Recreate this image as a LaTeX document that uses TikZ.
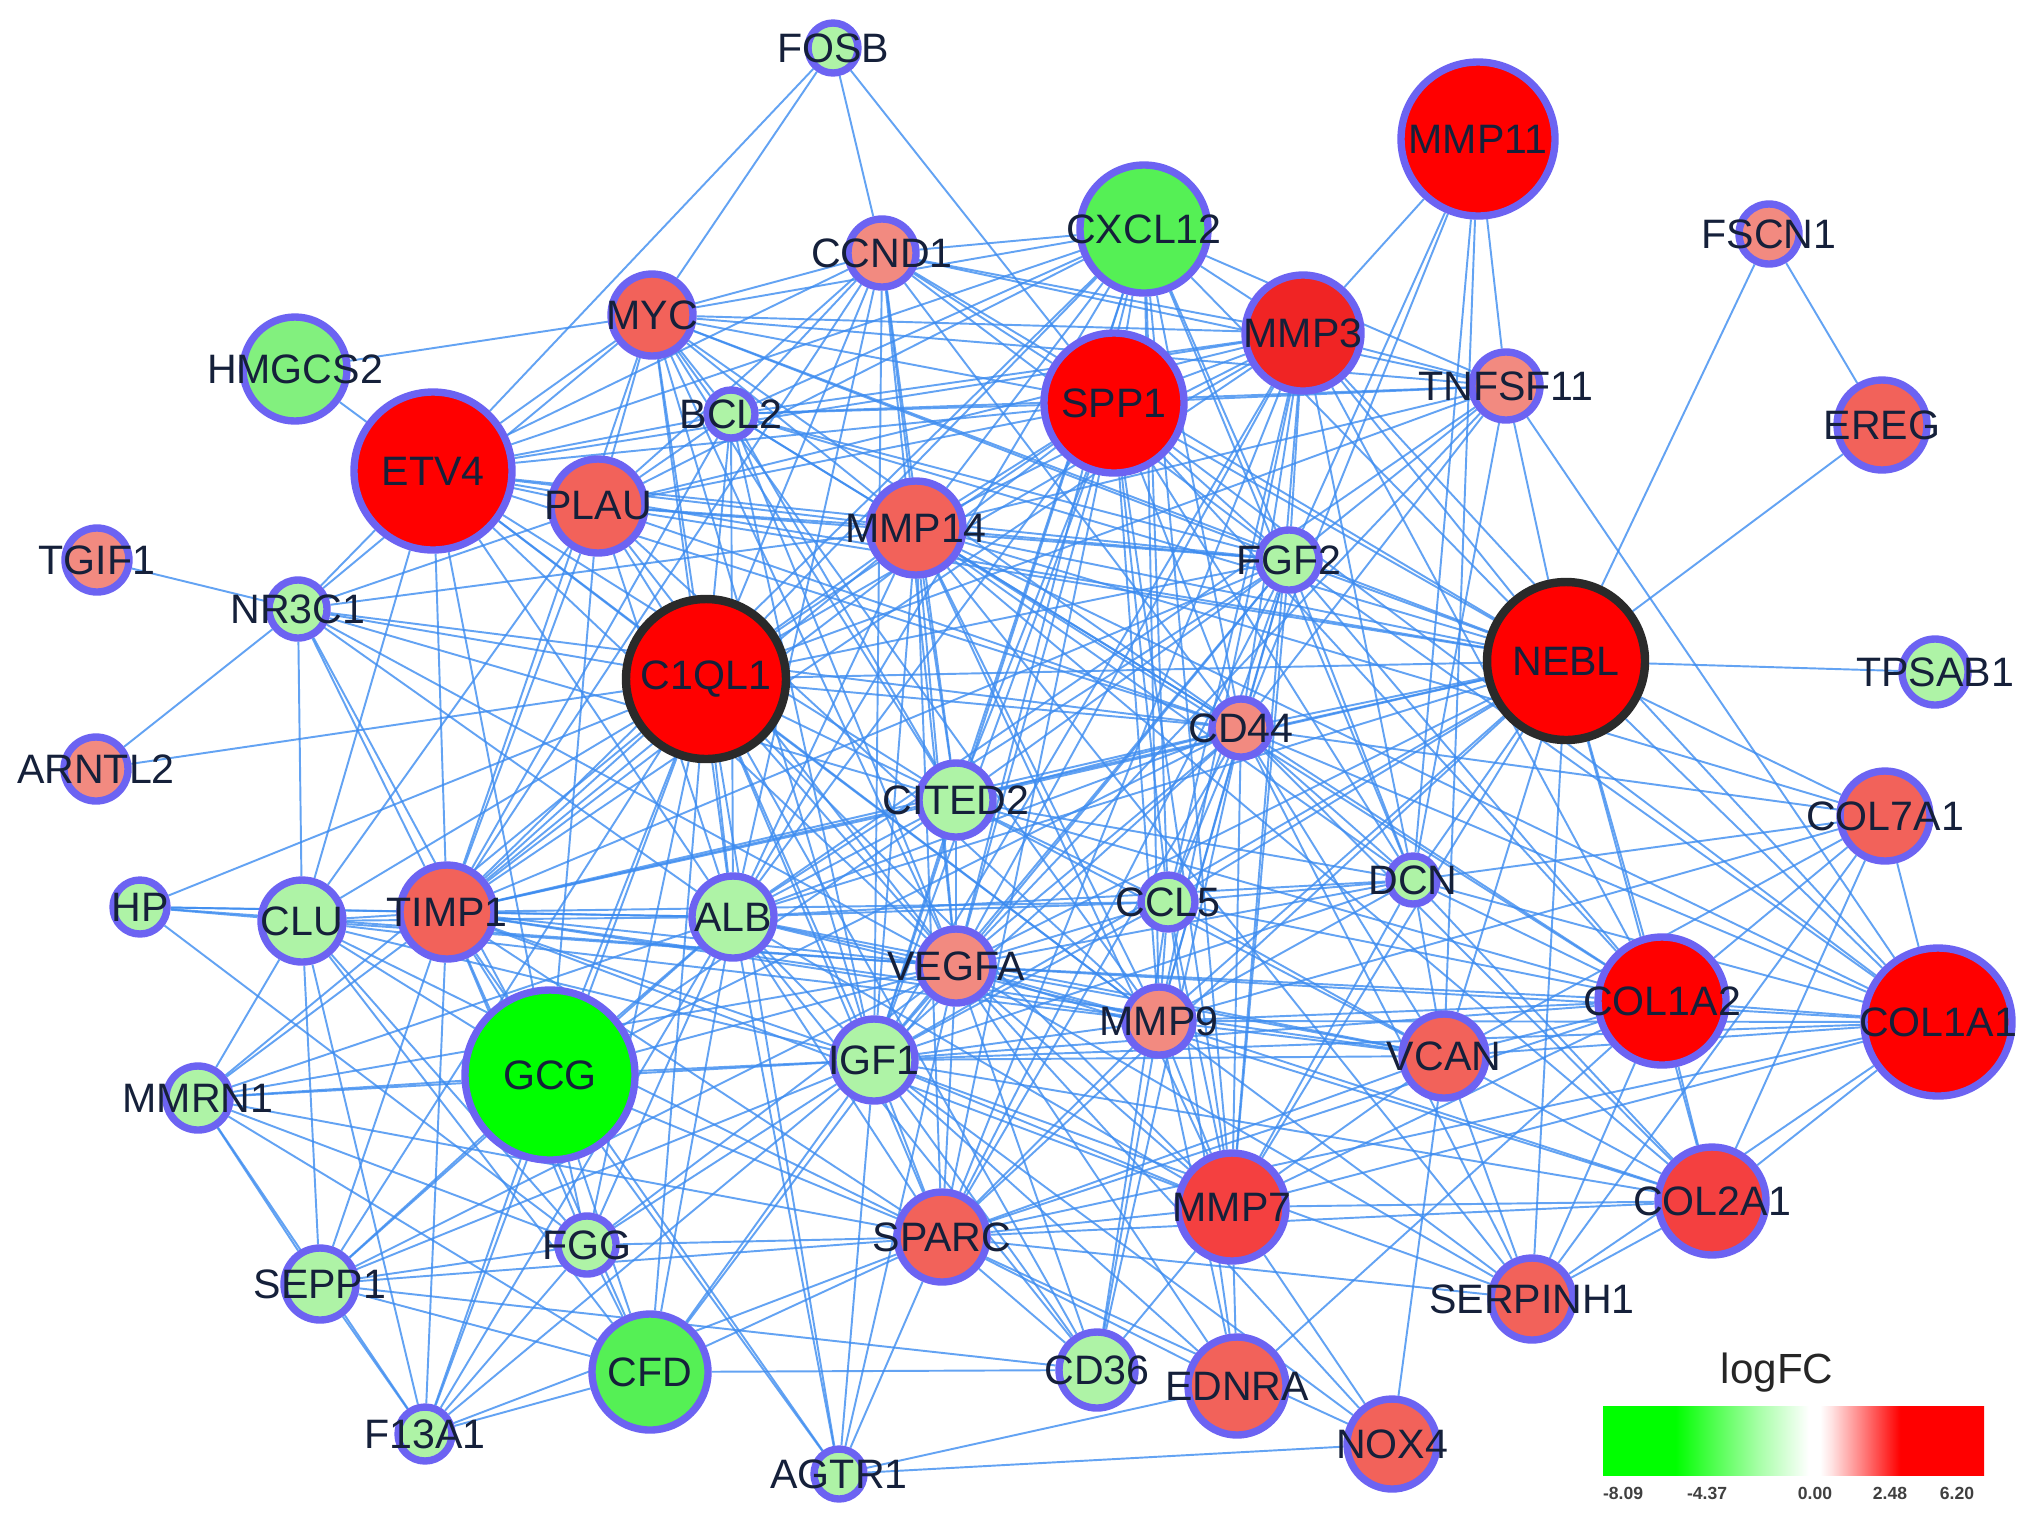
\documentclass[tikz,border=0pt]{standalone}
\usepackage{fontspec}
\setmainfont{Liberation Sans}
\pgfdeclarelayer{paper}
\pgfdeclarelayer{bg}
\pgfsetlayers{paper,bg,main}
\definecolor{nred}{HTML}{FF0000}
\definecolor{nredb}{HTML}{F02424}
\definecolor{nredc}{HTML}{F44040}
\definecolor{nsal}{HTML}{F2625A}
\definecolor{nsalb}{HTML}{F28A80}
\definecolor{ngrn}{HTML}{00FF00}
\definecolor{ngrnb}{HTML}{55F055}
\definecolor{ngrnc}{HTML}{82F07E}
\definecolor{npale}{HTML}{AEF3A6}
\definecolor{nbord}{HTML}{6C63F2}
\definecolor{hubb}{HTML}{2A2A2A}
\definecolor{edgec}{HTML}{3D8CF0}
\definecolor{txt}{HTML}{15203A}
\definecolor{lgA}{HTML}{00FF00}
\definecolor{lgB}{HTML}{40FF40}
\definecolor{lgC}{HTML}{A8FFA8}
\definecolor{lrA}{HTML}{FFE2E2}
\definecolor{lrB}{HTML}{FF8080}
\pgfdeclarehorizontalshading{logfc}{100bp}{color(0bp)=(lgA); color(34.5bp)=(lgA); color(38.5bp)=(lgB); color(45.5bp)=(lgC); color(52bp)=(white); color(53.5bp)=(white); color(55bp)=(lrA); color(59bp)=(lrB); color(64bp)=(red); color(100bp)=(red)}
\tikzset{
  gnode/.style={circle, draw=nbord, line width=2.1pt, inner sep=0pt},
  hubnode/.style={circle, draw=hubb, line width=2.4pt, inner sep=0pt},
  lbl/.style={font=\fontsize{11.7}{12}\selectfont, text=txt, inner sep=0pt},
  edge/.style={draw=edgec, line width=0.55pt, opacity=0.8},
  legtxt/.style={font=\bfseries\fontsize{5}{6}\selectfont, text=black!75, inner sep=0pt},
  legtitle/.style={font=\fontsize{12}{13}\selectfont, text=black!85, inner sep=0pt}
}
\begin{document}
\begin{tikzpicture}[x=0.1mm, y=-0.1mm]
\useasboundingbox (0,0) rectangle (2031,1522);
\begin{pgfonlayer}{paper}
\fill[white] (0,0) rectangle (2031,1522);
\end{pgfonlayer}
% nodes
\foreach \nn/\xx/\yy/\dd/\cc in {
FOSB/833/48/50/npale, MMP11/1478/139/154/nred, CXCL12/1144/229/128/ngrnb,
CCND1/882/253/68/nsalb, FSCN1/1769/234/60/nsalb, MYC/652/315/82/nsal,
MMP3/1303/333/116/nredb, HMGCS2/295/369/104/ngrnc, TNFSF11/1506/386/68/nsalb,
SPP1/1114/403/140/nred, BCL2/731/414/48/npale, EREG/1882/425/90/nsal,
ETV4/433/471/158/nred, PLAU/598/506/94/nsal, MMP14/916/528/94/nsal,
TGIF1/97/560/64/nsalb, FGF2/1289/560/60/npale, NR3C1/298/609/58/npale,
TPSAB1/1935/672/66/npale, CD44/1241/728/58/nsalb, ARNTL2/96/769/64/nsalb,
CITED2/956/800/74/npale, COL7A1/1885/816/90/nsal, HP/140/907/54/npale,
CLU/302/921/82/npale, TIMP1/447/912/94/nsal, ALB/733/917/82/npale,
CCL5/1168/902/54/npale, DCN/1413/880/48/npale, VEGFA/956/966/74/nsalb,
COL1A2/1662/1001/128/nred, COL1A1/1938/1022/148/nred, MMP9/1159/1021/68/nsalb,
VCAN/1444/1056/84/nsal, GCG/550/1075/170/ngrn, IGF1/874/1060/82/npale,
MMRN1/198/1098/64/npale, MMP7/1232/1207/108/nredc, COL2A1/1712/1201/108/nredc,
SPARC/942/1237/90/nsal, FGG/587/1245/58/npale, SEPP1/320/1284/72/npale,
SERPINH1/1532/1299/82/nsal, CFD/650/1372/116/ngrnb, CD36/1097/1370/76/npale,
EDNRA/1237/1386/98/nsal, NOX4/1392/1444/90/nsal, F13A1/425/1434/54/npale,
AGTR1/839/1474/50/npale}
{ \node[gnode, fill=\cc, minimum size=\dd*0.1mm] (\nn) at (\xx,\yy) {}; }
\node[hubnode, fill=nred, minimum size=16mm] (C1QL1) at (706,679) {};
\node[hubnode, fill=nred, minimum size=15.8mm] (NEBL) at (1566,661) {};
% edges
\begin{pgfonlayer}{bg}
\foreach \ea/\eb in {
FOSB/ETV4, FOSB/MYC, FOSB/CCND1, FOSB/SPP1,
HMGCS2/MYC, HMGCS2/ETV4,
TGIF1/NR3C1, ARNTL2/NR3C1, ARNTL2/C1QL1,
TPSAB1/NEBL, FSCN1/NEBL, FSCN1/EREG, EREG/NEBL,
MMP11/MMP3, MMP11/TNFSF11, MMP11/FGF2, MMP11/CD44, MMP11/DCN, MMP11/VCAN,
NR3C1/ETV4, NR3C1/PLAU, NR3C1/MYC, NR3C1/C1QL1, NR3C1/MMP14, NR3C1/CLU, NR3C1/TIMP1, NR3C1/GCG, NR3C1/ALB, NR3C1/CITED2, NR3C1/CD44, NR3C1/VEGFA,
HP/CLU, HP/TIMP1, HP/ALB, HP/C1QL1, HP/FGG, HP/VEGFA,
MMRN1/CLU, MMRN1/TIMP1, MMRN1/GCG, MMRN1/SEPP1, MMRN1/F13A1, MMRN1/CFD, MMRN1/FGG, MMRN1/ALB, MMRN1/IGF1, MMRN1/VEGFA, MMRN1/C1QL1, MMRN1/SPARC,
CLU/TIMP1, CLU/ALB, CLU/C1QL1, CLU/ETV4, CLU/SEPP1, CLU/F13A1, CLU/FGG, CLU/GCG, CLU/CFD, CLU/IGF1, CLU/VEGFA, CLU/PLAU, CLU/SPARC,
SEPP1/TIMP1, SEPP1/GCG, SEPP1/F13A1, SEPP1/FGG, SEPP1/CFD, SEPP1/ALB, SEPP1/IGF1, SEPP1/SPARC, SEPP1/CD36, SEPP1/C1QL1, SEPP1/VEGFA,
F13A1/TIMP1, F13A1/GCG, F13A1/CFD, F13A1/FGG, F13A1/ALB, F13A1/IGF1, F13A1/C1QL1, F13A1/SPARC,
AGTR1/EDNRA, AGTR1/NOX4, AGTR1/SPARC, AGTR1/GCG, AGTR1/ALB, AGTR1/IGF1, AGTR1/TIMP1, AGTR1/VEGFA, AGTR1/C1QL1,
FGG/GCG, FGG/CFD, FGG/TIMP1, FGG/ALB, FGG/IGF1, FGG/C1QL1, FGG/VEGFA, FGG/SPARC,
CFD/GCG, CFD/CD36, CFD/SPARC, CFD/IGF1, CFD/ALB, CFD/TIMP1, CFD/VEGFA, CFD/C1QL1,
CD36/SPARC, CD36/MMP9, CD36/VEGFA, CD36/CCL5, CD36/MMP7, CD36/IGF1, CD36/ALB, CD36/C1QL1, CD36/CD44,
EDNRA/MMP9, EDNRA/VEGFA, EDNRA/IGF1, EDNRA/SPARC, EDNRA/CCL5, EDNRA/COL1A2, EDNRA/MMP7,
NOX4/SPARC, NOX4/MMP7, NOX4/VCAN, NOX4/IGF1, NOX4/VEGFA,
SERPINH1/COL1A2, SERPINH1/COL1A1, SERPINH1/COL2A1, SERPINH1/NEBL, SERPINH1/VCAN, SERPINH1/MMP9, SERPINH1/SPARC, SERPINH1/VEGFA, SERPINH1/CD44, SERPINH1/COL7A1, SERPINH1/IGF1, SERPINH1/MMP14,
COL2A1/COL1A2, COL2A1/COL1A1, COL2A1/NEBL, COL2A1/VCAN, COL2A1/MMP9, COL2A1/VEGFA, COL2A1/SPARC, COL2A1/DCN, COL2A1/COL7A1, COL2A1/MMP14, COL2A1/CD44, COL2A1/IGF1, COL2A1/MMP7,
COL1A1/COL1A2, COL1A1/NEBL, COL1A1/COL7A1, COL1A1/VCAN, COL1A1/MMP9, COL1A1/DCN, COL1A1/CD44, COL1A1/MMP14, COL1A1/MMP3, COL1A1/SPP1, COL1A1/SPARC, COL1A1/VEGFA, COL1A1/IGF1, COL1A1/FGF2, COL1A1/MMP7, COL1A1/TNFSF11,
COL1A2/NEBL, COL1A2/COL7A1, COL1A2/VCAN, COL1A2/MMP9, COL1A2/DCN, COL1A2/CD44, COL1A2/MMP14, COL1A2/SPP1, COL1A2/SPARC, COL1A2/VEGFA, COL1A2/IGF1, COL1A2/FGF2, COL1A2/MMP7, COL1A2/CCL5, COL1A2/CITED2, COL1A2/MMP3,
COL7A1/NEBL, COL7A1/VCAN, COL7A1/DCN, COL7A1/MMP9, COL7A1/CD44, COL7A1/MMP14,
VCAN/NEBL, VCAN/MMP9, VCAN/DCN, VCAN/CD44, VCAN/VEGFA, VCAN/IGF1, VCAN/SPARC, VCAN/MMP7, VCAN/CCL5, VCAN/CITED2, VCAN/ALB, VCAN/TIMP1,
DCN/NEBL, DCN/CD44, DCN/MMP9, DCN/VEGFA, DCN/IGF1, DCN/CCL5, DCN/MMP7, DCN/SPP1, DCN/MMP3, DCN/TNFSF11, DCN/FGF2, DCN/ALB, DCN/CITED2, DCN/MMP14, DCN/CXCL12,
CCL5/NEBL, CCL5/CD44, CCL5/MMP9, CCL5/VEGFA, CCL5/IGF1, CCL5/ALB, CCL5/TIMP1, CCL5/SPP1, CCL5/CXCL12, CCL5/MMP3, CCL5/FGF2, CCL5/MMP7, CCL5/CITED2,
MMP9/NEBL, MMP9/CD44, MMP9/VEGFA, MMP9/IGF1, MMP9/ALB, MMP9/TIMP1, MMP9/SPP1, MMP9/CXCL12, MMP9/MMP3, MMP9/FGF2, MMP9/MMP7, MMP9/MMP14, MMP9/SPARC, MMP9/PLAU, MMP9/ETV4, MMP9/C1QL1, MMP9/CLU, MMP9/MYC,
MMP7/NEBL, MMP7/CD44, MMP7/VEGFA, MMP7/IGF1, MMP7/ALB, MMP7/SPP1, MMP7/MMP3, MMP7/MMP14, MMP7/SPARC, MMP7/CXCL12, MMP7/FGF2, MMP7/TIMP1, MMP7/C1QL1,
VEGFA/NEBL, VEGFA/CD44, VEGFA/IGF1, VEGFA/ALB, VEGFA/TIMP1, VEGFA/SPP1, VEGFA/CXCL12, VEGFA/MMP3, VEGFA/FGF2, VEGFA/MMP14, VEGFA/PLAU, VEGFA/ETV4, VEGFA/C1QL1, VEGFA/MYC, VEGFA/CCND1, VEGFA/BCL2, VEGFA/CITED2, VEGFA/SPARC, VEGFA/GCG, VEGFA/TNFSF11,
IGF1/NEBL, IGF1/CD44, IGF1/ALB, IGF1/TIMP1, IGF1/SPP1, IGF1/CXCL12, IGF1/MMP3, IGF1/FGF2, IGF1/MMP14, IGF1/C1QL1, IGF1/CITED2, IGF1/SPARC, IGF1/GCG, IGF1/BCL2, IGF1/MYC, IGF1/CCND1,
SPARC/NEBL, SPARC/CD44, SPARC/ALB, SPARC/TIMP1, SPARC/SPP1, SPARC/MMP14, SPARC/C1QL1, SPARC/MMP3, SPARC/FGF2, SPARC/GCG,
ALB/NEBL, ALB/TIMP1, ALB/C1QL1, ALB/CITED2, ALB/CD44, ALB/SPP1, ALB/CXCL12, ALB/MMP14, ALB/PLAU, ALB/ETV4, ALB/GCG, ALB/MYC, ALB/BCL2, ALB/CCND1, ALB/FGF2, ALB/TNFSF11,
TIMP1/ETV4, TIMP1/C1QL1, TIMP1/PLAU, TIMP1/MMP14, TIMP1/SPP1, TIMP1/MMP3, TIMP1/CD44, TIMP1/NEBL, TIMP1/GCG, TIMP1/CITED2, TIMP1/BCL2, TIMP1/MYC, TIMP1/CCND1, TIMP1/CXCL12, TIMP1/FGF2,
GCG/C1QL1, GCG/CITED2, GCG/ETV4, GCG/PLAU, GCG/CD44,
CITED2/NEBL, CITED2/CD44, CITED2/C1QL1, CITED2/SPP1, CITED2/MMP14, CITED2/MYC, CITED2/CXCL12, CITED2/FGF2, CITED2/BCL2, CITED2/CCND1, CITED2/ETV4,
CD44/NEBL, CD44/SPP1, CD44/MMP3, CD44/CXCL12, CD44/FGF2, CD44/MMP14, CD44/PLAU, CD44/C1QL1, CD44/ETV4, CD44/CCND1, CD44/MYC, CD44/BCL2, CD44/TNFSF11,
FGF2/NEBL, FGF2/SPP1, FGF2/MMP3, FGF2/CXCL12, FGF2/MMP14, FGF2/C1QL1, FGF2/CCND1, FGF2/MYC, FGF2/TNFSF11, FGF2/BCL2, FGF2/PLAU, FGF2/ETV4,
NEBL/SPP1, NEBL/MMP3, NEBL/CXCL12, NEBL/MMP14, NEBL/PLAU, NEBL/TNFSF11, NEBL/C1QL1, NEBL/ETV4, NEBL/CCND1, NEBL/MYC, NEBL/BCL2,
TNFSF11/MMP3, TNFSF11/SPP1, TNFSF11/CXCL12, TNFSF11/MMP14, TNFSF11/CCND1, TNFSF11/MYC, TNFSF11/C1QL1, TNFSF11/BCL2,
C1QL1/ETV4, C1QL1/PLAU, C1QL1/MYC, C1QL1/BCL2, C1QL1/CCND1, C1QL1/MMP14, C1QL1/SPP1, C1QL1/CXCL12, C1QL1/MMP3,
MMP14/SPP1, MMP14/CXCL12, MMP14/MMP3, MMP14/PLAU, MMP14/ETV4, MMP14/CCND1, MMP14/MYC, MMP14/BCL2,
PLAU/ETV4, PLAU/MYC, PLAU/CCND1, PLAU/SPP1, PLAU/CXCL12, PLAU/MMP3, PLAU/BCL2,
ETV4/MYC, ETV4/CCND1, ETV4/SPP1, ETV4/CXCL12, ETV4/BCL2, ETV4/MMP3,
MYC/CCND1, MYC/CXCL12, MYC/SPP1, MYC/BCL2, MYC/MMP3,
BCL2/SPP1, BCL2/CCND1, BCL2/CXCL12, BCL2/MMP3,
CCND1/CXCL12, CCND1/SPP1, CCND1/MMP3,
CXCL12/SPP1, CXCL12/MMP3, SPP1/MMP3}
{ \draw[edge] (\ea) -- (\eb); }
\end{pgfonlayer}
% labels
\foreach \nn in {FOSB, MMP11, CXCL12, CCND1, FSCN1, MYC, MMP3, HMGCS2, TNFSF11,
SPP1, BCL2, EREG, ETV4, PLAU, MMP14, TGIF1, FGF2, NR3C1, C1QL1, NEBL, TPSAB1,
CD44, ARNTL2, CITED2, COL7A1, HP, CLU, TIMP1, ALB, CCL5, DCN, VEGFA, COL1A2,
COL1A1, MMP9, VCAN, GCG, IGF1, MMRN1, MMP7, COL2A1, SPARC, FGG, SEPP1,
SERPINH1, CFD, CD36, EDNRA, NOX4, F13A1, AGTR1}
{ \node[lbl] at (\nn) {\nn}; }
% legend
\node[legtitle] (lgt) at (1777,1373) {logFC};
\node[draw=none, shading=logfc, minimum width=38.1mm, minimum height=6.9mm, inner sep=0pt] (lgbar) at (1793.5,1440.5) {};
\node[legtxt] (lg1) at (1623,1493) {-8.09};
\node[legtxt] (lg2) at (1707,1493) {-4.37};
\node[legtxt] (lg3) at (1815,1493) {0.00};
\node[legtxt] (lg4) at (1890,1493) {2.48};
\node[legtxt] (lg5) at (1957,1493) {6.20};
\end{tikzpicture}
\end{document}
